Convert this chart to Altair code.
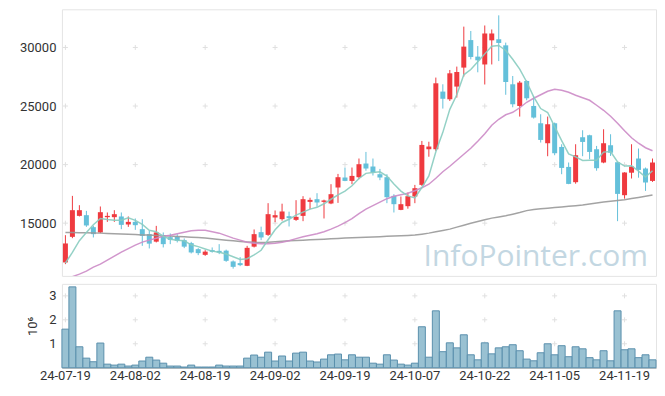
import altair as alt
import pandas as pd

dates = [
    "24-07-19", "24-07-22", "24-07-23", "24-07-24", "24-07-25", "24-07-26", "24-07-29", "24-07-30", "24-07-31",
    "24-08-01", "24-08-02", "24-08-05", "24-08-06", "24-08-07", "24-08-08", "24-08-09", "24-08-12", "24-08-13",
    "24-08-14", "24-08-16", "24-08-19", "24-08-20", "24-08-21", "24-08-22", "24-08-23", "24-08-26", "24-08-27",
    "24-08-28", "24-08-29", "24-08-30",
    "24-09-02", "24-09-03", "24-09-04", "24-09-05", "24-09-06", "24-09-09", "24-09-10", "24-09-11", "24-09-12",
    "24-09-13", "24-09-19", "24-09-20", "24-09-23", "24-09-24", "24-09-25", "24-09-26", "24-09-27", "24-09-30",
    "24-10-02", "24-10-04", "24-10-07", "24-10-08", "24-10-10", "24-10-11", "24-10-14", "24-10-15", "24-10-16",
    "24-10-17", "24-10-18", "24-10-21", "24-10-22", "24-10-23", "24-10-24", "24-10-25", "24-10-28", "24-10-29",
    "24-10-30", "24-10-31",
    "24-11-01", "24-11-04", "24-11-05", "24-11-06", "24-11-07", "24-11-08", "24-11-11", "24-11-12", "24-11-13",
    "24-11-14", "24-11-15", "24-11-18", "24-11-19", "24-11-20", "24-11-21", "24-11-22", "24-11-25",
]

opens = [11648, 13832, 15623, 15682, 14659, 14207, 15512, 15512, 15572, 14889,
         15111, 14488, 14062, 13422, 13976, 13806, 13831, 13550, 13294, 12782,
         12296, 12697, 12637, 12654, 11733, 11588, 11358, 12995, 14232, 14002,
         15486, 15341, 15597, 15282, 15623, 16817, 17047, 16817, 16680, 18045,
         18898, 18608, 18924, 20092, 19837, 19180, 18924, 17329, 16134, 16450,
         17278, 18267, 21312, 21312, 26234, 25577, 26661, 28282, 30631, 29219,
         28549, 30610, 30700, 30183, 26857, 25006, 27138, 25006, 23530, 21824,
         23530, 21508, 19803, 18497, 22336, 22506, 21312, 20178, 21653, 20203,
         17388, 19308, 20519, 19666, 18608]

highs = [13976, 17329, 16535, 16049, 14770, 16424, 15913, 16109, 15913, 15572,
         15401, 15341, 14343, 14770, 14207, 14121, 14062, 13695, 13405, 12868,
         12697, 12927, 13209, 12740, 11818, 12100, 13064, 14463, 14701, 16706,
         16083, 16663, 15981, 16962, 17303, 17175, 17559, 17005, 18327, 19205,
         19751, 19751, 20519, 21082, 20519, 19632, 19180, 17474, 17278, 17619,
         18267, 22020, 21952, 27429, 26857, 28077, 28367, 31779, 31408, 30124,
         31876, 31536, 32742, 30414, 27565, 27138, 27198, 25859, 24298, 24101,
         23590, 21738, 20178, 21738, 22933, 22549, 21594, 23018, 22592, 20229,
         19350, 21738, 21372, 19751, 20519]

lows = [11502, 13720, 15572, 14684, 13780, 14147, 15111, 15111, 14488, 14684,
        14428, 13064, 12842, 13354, 12927, 13209, 13354, 12868, 12415, 12270,
        12211, 12484, 12356, 11699, 11119, 11332, 11332, 12927, 13550, 13917,
        15085, 15213, 14718, 15196, 15171, 16194, 16407, 15401, 16621, 16732,
        18583, 18327, 18753, 19478, 19069, 18668, 16706, 15913, 16109, 16237,
        16706, 18182, 20673, 21167, 24784, 25432, 25722, 27514, 28989, 27881,
        26840, 28549, 28839, 25961, 24895, 24101, 25492, 23931, 21884, 20715,
        20800, 19180, 18327, 18369, 20715, 20459, 19478, 20118, 20741, 15171,
        17090, 18813, 18881, 17755, 18523]

closes = [13268, 16109, 16109, 14804, 14062, 15938, 15623, 15768, 14855, 15111,
          14829, 13917, 13251, 14207, 13209, 13575, 13490, 12995, 12501, 12441,
          12569, 12552, 12484, 11784, 11272, 11417, 12893, 14062, 13780, 15768,
          15682, 15998, 15427, 15537, 17047, 16988, 16766, 16937, 17474, 18924,
          18608, 19035, 20033, 19666, 19325, 18898, 17218, 16621, 16621, 17303,
          17986, 21679, 21543, 26942, 25620, 27795, 27906, 30073, 29190, 28904,
          31194, 31194, 30386, 27053, 25151, 27002, 25662, 24016, 22106, 23445,
          20971, 19717, 18352, 20800, 21935, 21082, 19692, 21824, 21014, 17499,
          19325, 19837, 19547, 18472, 20178]

ma5 = [11600, 12500, 13500, 14200, 14870, 15404, 15307, 15239, 15249, 15459,
       15237, 14896, 14393, 14263, 13883, 13632, 13546, 13495, 13154, 13000,
       12799, 12612, 12509, 12366, 12132, 11902, 11970, 12286, 12685, 13584,
       14437, 15058, 15331, 15682, 15938, 16199, 16353, 16655, 17042, 17418,
       17742, 18196, 18815, 19253, 19333, 19391, 19028, 18346, 17737, 17332,
       17150, 18042, 19026, 21091, 22754, 24716, 25961, 27667, 28117, 28774,
       29453, 30111, 30174, 29746, 28996, 28157, 27051, 25777, 24787, 24446,
       23240, 22051, 20918, 20657, 20355, 20377, 20372, 21067, 21109, 20222,
       19871, 19900, 19444, 18936, 19472]

ma20 = [10150, 10436, 10650, 10906, 11247, 11503, 11844, 12185, 12526, 12825,
        13123, 13379, 13550, 13720, 13891, 13976, 14104, 14232, 14343, 14403,
        14403, 14274, 14147, 13934, 13720, 13550, 13379, 13294, 13251, 13251,
        13294, 13379, 13507, 13678, 13848, 13976, 14104, 14274, 14488, 14744,
        15043, 15384, 15810, 16194, 16493, 16791, 17090, 17303, 17431, 17559,
        17772, 18028, 18327, 18839, 19393, 19862, 20374, 20886, 21398, 21995,
        22634, 23359, 23871, 24255, 24469, 24853, 25322, 25662, 25961, 26260,
        26431, 26345, 26175, 25918, 25705, 25492, 25066, 24639, 24127, 23530,
        22890, 22293, 21824, 21440, 21184]

ma60 = [14210, 14200, 14190, 14180, 14160, 14150, 14120, 14100, 14070, 14045,
        14030, 14000, 13980, 13950, 13925, 13900, 13865, 13840, 13805, 13780,
        13740, 13670, 13600, 13540, 13490, 13440, 13400, 13370, 13360, 13380,
        13415, 13455, 13490, 13525, 13550, 13575, 13610, 13635, 13670, 13700,
        13730, 13755, 13780, 13800, 13825, 13850, 13875, 13900, 13925, 13950,
        13980, 14060, 14150, 14260, 14370, 14490, 14660, 14830, 15000, 15150,
        15290, 15430, 15530, 15640, 15770, 15910, 16070, 16170, 16230, 16280,
        16330, 16385, 16435, 16495, 16560, 16640, 16720, 16800, 16870, 16935,
        17000, 17100, 17200, 17300, 17410]

volumes = [1610000, 3375000, 875000, 400000, 250000, 1030000, 150000, 110000, 150000, 70000,
           110000, 280000, 440000, 320000, 190000, 70000, 70000, 30000, 110000, 30000,
           30000, 30000, 110000, 70000, 70000, 70000, 400000, 530000, 440000, 650000,
           280000, 490000, 280000, 610000, 650000, 280000, 240000, 360000, 540000, 570000,
           330000, 540000, 440000, 440000, 190000, 150000, 540000, 320000, 150000, 110000,
           190000, 1710000, 440000, 2375000, 670000, 1040000, 830000, 1375000, 540000, 330000,
           1040000, 580000, 830000, 875000, 960000, 710000, 360000, 290000, 625000, 1000000,
           540000, 920000, 460000, 875000, 790000, 420000, 330000, 710000, 290000, 2375000,
           750000, 790000, 420000, 540000, 330000]

date_ticks = ["24-07-19", "24-08-02", "24-08-19", "24-09-02", "24-09-19",
              "24-10-07", "24-10-22", "24-11-05", "24-11-19"]
price_ticks = [15000, 20000, 25000, 30000]
vol_ticks = [1000000, 2000000, 3000000]

RED = "#ef3a3f"
BLUE = "#64c0da"
FONT = "Roboto"

df = pd.DataFrame({
    "date": dates, "open": opens, "high": highs, "low": lows, "close": closes,
    "ma5": ma5, "ma20": ma20, "ma60": ma60, "volume": volumes,
})
df["dir"] = ["up" if c >= o else "down" for o, c in zip(opens, closes)]

xscale = alt.Scale(domain=dates, paddingInner=0, paddingOuter=0)
yscale = alt.Scale(domain=[10500, 33260], zero=False, nice=False)
color = alt.Color("dir:N", scale=alt.Scale(domain=["up", "down"], range=[RED, BLUE]), legend=None)

cross_shape = "M-1,0H1M0,-1V1"
price_cross = pd.DataFrame([{"date": d, "v": p} for d in date_ticks for p in price_ticks])
vol_cross = pd.DataFrame([{"date": d, "v": v} for d in date_ticks for v in vol_ticks])

base = alt.Chart(df)
x_noaxis = alt.X("date:O", scale=xscale, axis=None)

crosses = alt.Chart(price_cross).mark_point(
    shape=cross_shape, size=25, filled=False, color="#e0e0e0", strokeWidth=1, opacity=1
).encode(x=x_noaxis, y=alt.Y("v:Q", scale=yscale))

wicks = base.mark_rule(strokeWidth=1).encode(
    x=x_noaxis,
    y=alt.Y("low:Q", scale=yscale,
            axis=alt.Axis(values=price_ticks, format="d", title=None, labelPadding=6)),
    y2="high:Q",
    color=color,
)
bodies = base.mark_bar(size=5).encode(x=x_noaxis, y="open:Q", y2="close:Q", color=color)

def ma_line(field, col, width):
    return base.mark_line(color=col, strokeWidth=width, clip=True, opacity=0.9).encode(
        x=x_noaxis, y=alt.Y(f"{field}:Q", scale=yscale))

watermark = alt.Chart(pd.DataFrame({"t": ["InfoPointer.com"]})).mark_text(
    font="Open Sans", fontSize=30, color="#c3d7e2", align="right", baseline="alphabetic"
).encode(text="t:N", x=alt.value(587), y=alt.value(257))

price = alt.layer(
    crosses, wicks, bodies,
    ma_line("ma60", "#999999", 1.5),
    ma_line("ma20", "#cc8bc6", 1.5),
    ma_line("ma5", "#88ccc0", 1.5),
    watermark,
).properties(width=595, height=267)

vscale = alt.Scale(domain=[0, 3500000], nice=False)
vcross = alt.Chart(vol_cross).mark_point(
    shape=cross_shape, size=25, filled=False, color="#e0e0e0", strokeWidth=1, opacity=1
).encode(x=alt.X("date:O", scale=xscale), y=alt.Y("v:Q", scale=vscale))

vbars = base.mark_bar(fill="#99c1d2", stroke="#5a90ad", strokeWidth=1).encode(
    x=alt.X("date:O", scale=xscale,
            axis=alt.Axis(values=date_ticks, labelAngle=0, labelAlign="center", title=None,
                          labelPadding=8, domain=True, domainColor="#b5b5b5")),
    y=alt.Y("volume:Q", scale=vscale,
            axis=alt.Axis(values=vol_ticks, labelExpr="datum.value / 1000000", title="10⁶",
                          titlePadding=9, labelPadding=6)),
)
volume = alt.layer(vcross, vbars).properties(width=595, height=84)

chart = alt.vconcat(price, volume, spacing=6).properties(
    padding={"left": 10, "top": 0, "right": 0, "bottom": 0}
).configure_view(stroke="#e4e4e4").configure_axis(
    labelFont=FONT, labelFontSize=13, labelColor="#333333",
    titleFont=FONT, titleFontSize=13, titleColor="#333333", titleFontWeight="normal",
    domain=False, ticks=False, grid=False,
)

chart.save("out.html", embed_options={"renderer": "svg", "actions": False})
